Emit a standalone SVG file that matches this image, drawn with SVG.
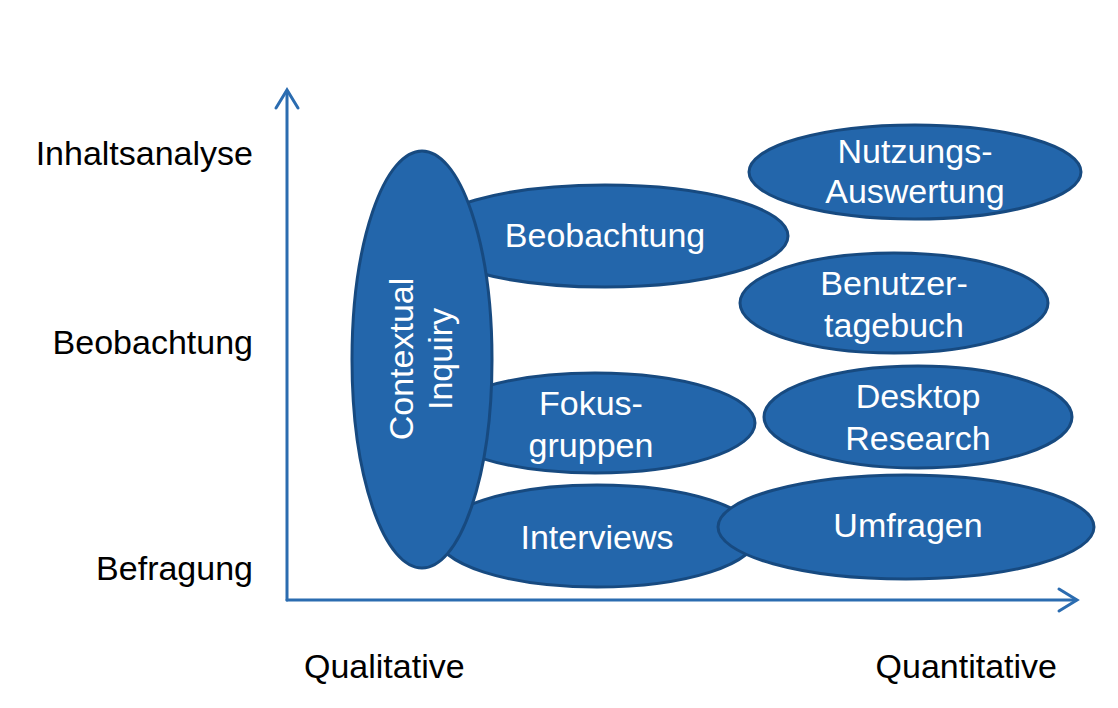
<svg xmlns="http://www.w3.org/2000/svg" width="1118" height="708" viewBox="0 0 1118 708">
<style>
.n{fill:#2366AB;stroke:#174A80;stroke-width:3}
.t{fill:#fff;font-family:"Liberation Sans",Arial,sans-serif;font-size:34px;text-anchor:middle}
.l{fill:#000;font-family:"Liberation Sans",Arial,sans-serif;font-size:34px}
.ax{fill:none;stroke:#2B6CB0;stroke-width:3;stroke-linecap:round;stroke-linejoin:miter}
</style>
<rect width="1118" height="708" fill="#fff"/>
<g id="axes" class="connectors">
<line class="ax" x1="287" y1="91" x2="287" y2="600"/>
<polyline class="ax" points="276,108 287,90 298,108"/>
<line class="ax" x1="287" y1="600" x2="1076" y2="600"/>
<polyline class="ax" points="1059,589 1077,600 1059,611"/>
</g>
<g id="labels">
<text class="l" x="253" y="165" text-anchor="end">Inhaltsanalyse</text>
<text class="l" x="253" y="354" text-anchor="end">Beobachtung</text>
<text class="l" x="253" y="580" text-anchor="end">Befragung</text>
<text class="l" x="304" y="678">Qualitative</text>
<text class="l" x="1057" y="678" text-anchor="end">Quantitative</text>
</g>
<g id="beobachtung">
<ellipse class="n" cx="605" cy="236" rx="183" ry="51"/>
<text class="t" x="605" y="247">Beobachtung</text>
</g>
<g id="fokusgruppen">
<ellipse class="n" cx="595" cy="423" rx="160" ry="50"/>
<text class="t" x="591" y="415">Fokus-</text>
<text class="t" x="591" y="457">gruppen</text>
</g>
<g id="interviews">
<ellipse class="n" cx="597" cy="536" rx="160" ry="51"/>
<text class="t" x="597" y="549">Interviews</text>
</g>
<g id="contextual-inquiry">
<ellipse class="n" cx="422" cy="359.5" rx="70" ry="208.5"/>
<text class="t" transform="translate(422,359) rotate(-90)"><tspan x="0" y="-9">Contextual</tspan><tspan x="0" y="30">Inquiry</tspan></text>
</g>
<g id="nutzungs-auswertung">
<ellipse class="n" cx="915" cy="172" rx="166" ry="47"/>
<text class="t" x="915" y="163">Nutzungs-</text>
<text class="t" x="915" y="203">Auswertung</text>
</g>
<g id="benutzertagebuch">
<ellipse class="n" cx="894" cy="303" rx="154" ry="50"/>
<text class="t" x="894" y="295">Benutzer-</text>
<text class="t" x="894" y="337">tagebuch</text>
</g>
<g id="desktop-research">
<ellipse class="n" cx="918" cy="417" rx="154" ry="51"/>
<text class="t" x="918" y="408">Desktop</text>
<text class="t" x="918" y="450">Research</text>
</g>
<g id="umfragen">
<ellipse class="n" cx="906" cy="527" rx="188" ry="52"/>
<text class="t" x="908" y="537">Umfragen</text>
</g>
</svg>
